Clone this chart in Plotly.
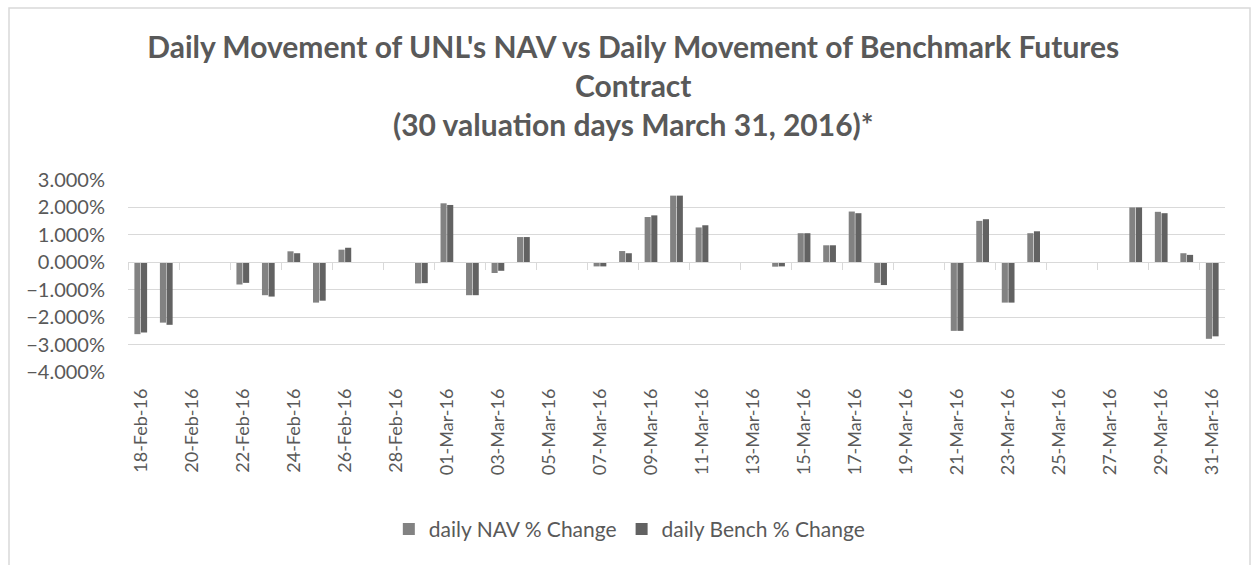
import plotly.graph_objects as go
import pandas as pd

dates = ["2016-02-18", "2016-02-19", "2016-02-22", "2016-02-23", "2016-02-24", "2016-02-25",
         "2016-02-26", "2016-02-29", "2016-03-01", "2016-03-02", "2016-03-03", "2016-03-04",
         "2016-03-07", "2016-03-08", "2016-03-09", "2016-03-10", "2016-03-11", "2016-03-14",
         "2016-03-15", "2016-03-16", "2016-03-17", "2016-03-18", "2016-03-21", "2016-03-22",
         "2016-03-23", "2016-03-24", "2016-03-28", "2016-03-29", "2016-03-30", "2016-03-31"]

# daily % changes (in percent)
nav_change = [-2.62, -2.20, -0.81, -1.20, 0.40, -1.47, 0.46, -0.77, 2.15, -1.20,
              -0.39, 0.92, -0.15, 0.41, 1.65, 2.43, 1.27, -0.16, 1.06, 0.62,
              1.85, -0.75, -2.50, 1.51, -1.47, 1.06, 2.00, 1.84, 0.33, -2.79]

bench_change = [-2.56, -2.28, -0.75, -1.25, 0.33, -1.40, 0.53, -0.76, 2.09, -1.20,
                -0.31, 0.92, -0.15, 0.33, 1.71, 2.43, 1.35, -0.15, 1.06, 0.62,
                1.79, -0.83, -2.50, 1.57, -1.47, 1.13, 2.00, 1.79, 0.27, -2.70]

y_ticks = [3, 2, 1, 0, -1, -2, -3, -4]
x_tick_dates = ["2016-02-18", "2016-02-20", "2016-02-22", "2016-02-24", "2016-02-26",
                "2016-02-28", "2016-03-01", "2016-03-03", "2016-03-05", "2016-03-07",
                "2016-03-09", "2016-03-11", "2016-03-13", "2016-03-15", "2016-03-17",
                "2016-03-19", "2016-03-21", "2016-03-23", "2016-03-25", "2016-03-27",
                "2016-03-29", "2016-03-31"]

# tick marks sit between days, half a day before each labelled date
boundary_ticks = [(pd.Timestamp(d) - pd.Timedelta(hours=12)).strftime("%Y-%m-%d %H:%M")
                  for d in x_tick_dates]

FONT = "Lato"
GRAY = "#595959"

fig = go.Figure()
fig.add_trace(go.Bar(x=dates, y=[v / 100 for v in nav_change], name="daily NAV % Change",
                     marker=dict(color="#828282", line=dict(width=0))))
fig.add_trace(go.Bar(x=dates, y=[v / 100 for v in bench_change], name="daily Bench % Change",
                     marker=dict(color="#626262", line=dict(width=0))))

x_range = ["2016-02-17 12:00", "2016-03-31 12:00"]

fig.update_layout(
    width=1254, height=565,
    paper_bgcolor="white", plot_bgcolor="white",
    margin=dict(l=128, r=29, t=180, b=193),
    barmode="group", bargap=0.48, bargroupgap=0.08,
    font=dict(family=FONT, color=GRAY),
    title=dict(
        text="Daily Movement of UNL's NAV vs Daily Movement of Benchmark Futures<br>Contract<br>(30 valuation days March 31, 2016)*",
        x=0.505, xanchor="center", xref="container",
        y=1 - 58 / 565, yanchor="top", yref="container",
        font=dict(family=FONT, size=30, color=GRAY, weight="bold"),
    ),
    xaxis=dict(
        type="date", range=x_range,
        tickvals=x_tick_dates, tickformat="%d-%b-%y", tickangle=-90,
        ticks="", showgrid=False, showline=False, zeroline=False,
        tickfont=dict(family=FONT, size=18, color=GRAY),
        ticklabelstandoff=12,
    ),
    xaxis2=dict(
        type="date", range=x_range, overlaying="x", anchor="free",
        position=4 / 7, side="bottom",
        tickvals=boundary_ticks, ticks="outside", ticklen=7, tickcolor="#d9d9d9",
        showticklabels=False, showline=True, linecolor="#d9d9d9", linewidth=1,
        showgrid=False, zeroline=False,
    ),
    yaxis=dict(
        range=[-0.04, 0.03], tickvals=[v / 100 for v in y_ticks], tickformat=".3%",
        showgrid=True, gridcolor="#d9d9d9", gridwidth=1, zeroline=False,
        tickfont=dict(family=FONT, size=20, color=GRAY),
        ticklabelstandoff=22,
    ),
    legend=dict(
        orientation="h", x=0.457, xanchor="center", y=-0.82, yanchor="middle",
        font=dict(family=FONT, size=21, color=GRAY),
        itemsizing="constant", traceorder="normal",
    ),
    shapes=[dict(type="rect", xref="paper", yref="paper",
                 x0=(9 - 128) / 1097, x1=(1250 - 128) / 1097,
                 y0=(372 - 600) / 192, y1=(372 - 8) / 192,
                 line=dict(color="#d9d9d9", width=1.5), layer="below")],
)

# invisible helper so the zero-line axis (xaxis2) is drawn
fig.add_trace(go.Scatter(x=[x_range[0]], y=[0], xaxis="x2", mode="markers",
                         marker=dict(opacity=0), showlegend=False, hoverinfo="skip"))

fig.write_html("out.html", config={"displayModeBar": False},
               post_script="document.body.style.margin='0';")
